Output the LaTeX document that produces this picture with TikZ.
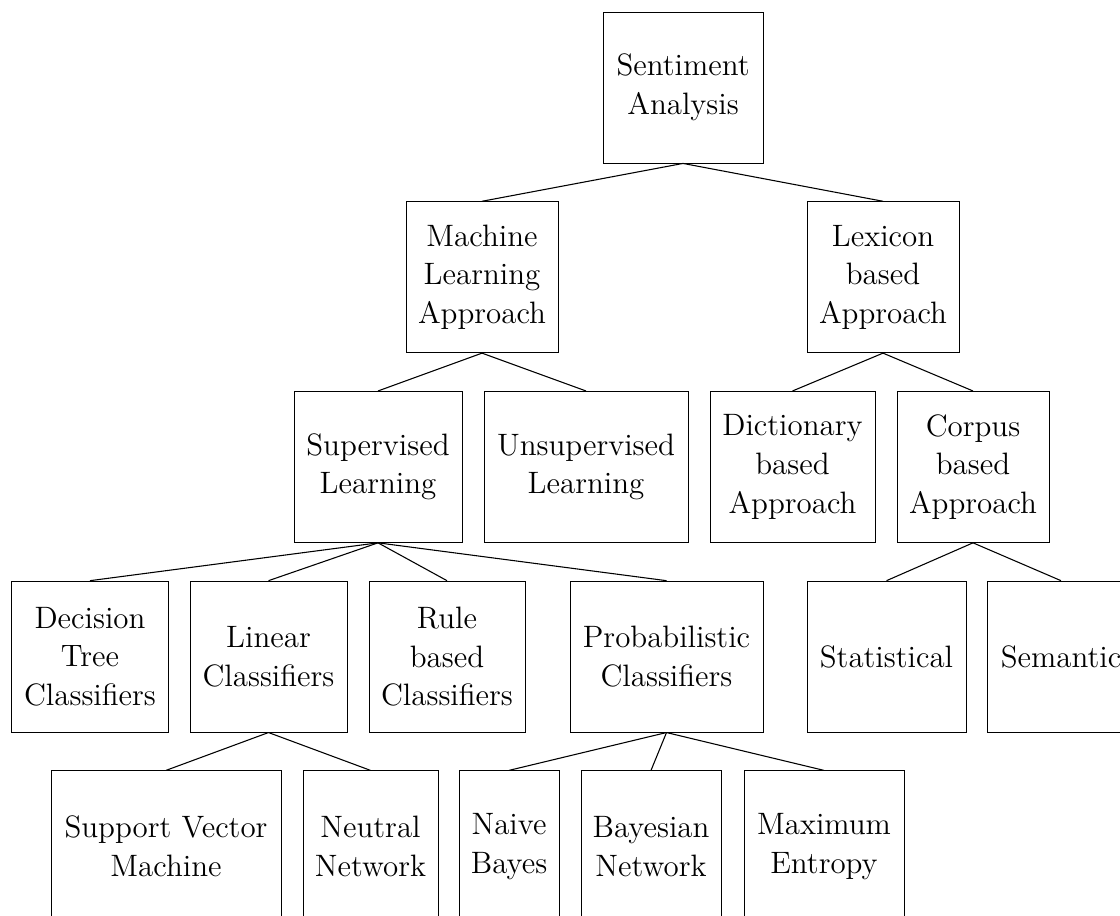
\documentclass[tikz,border=0pt]{standalone}
\begin{document}
\begin{tikzpicture}[x=0.4653pt,y=-0.4653pt,
  bx/.style={draw, align=center, inner sep=0pt, font=\Large,
    minimum height=70.26pt, minimum width={#1*0.4653pt}},
  link/.style={draw, line width=0.5pt}]
\useasboundingbox (0,0) rectangle (1120,915);
\clip (0,0) rectangle (1120,915);
% level 1
\node[bx=160] (root) at (683,87.5) {Sentiment\\Analysis};
% level 2
\node[bx=152] (ml) at (482,277.2) {Machine\\Learning\\Approach};
\node[bx=152] (lex) at (883,277.2) {Lexicon\\based\\Approach};
% level 3
\node[bx=168] (sup) at (378,466.9) {Supervised\\Learning};
\node[bx=204] (unsup) at (586,466.9) {Unsupervised\\Learning};
\node[bx=165] (dict) at (792.5,466.9) {Dictionary\\based\\Approach};
\node[bx=152] (corp) at (973,466.9) {Corpus\\based\\Approach};
% level 4
\node[bx=157] (dec) at (90,656.6) {Decision\\Tree\\Classifiers};
\node[bx=157] (lin) at (268.5,656.6) {Linear\\Classifiers};
\node[bx=156] (rule) at (447,656.6) {Rule\\based\\Classifiers};
\node[bx=193] (prob) at (666.5,656.6) {Probabilistic\\Classifiers};
\node[bx=159] (stat) at (886.5,656.6) {Statistical};
\node[bx=147] (sem) at (1061,656.6) {Semantic};
% level 5
\node[bx=230] (svm) at (166,846.3) {Support Vector\\Machine};
\node[bx=135] (nn) at (370.5,846.3) {Neutral\\Network};
\node[bx=100] (nb) at (509,846.3) {Naive\\Bayes};
\node[bx=140] (bn) at (651,846.3) {Bayesian\\Network};
\node[bx=160] (me) at (824,846.3) {Maximum\\Entropy};
% connectors
\draw[link] (root.south) -- (ml.north);
\draw[link] (root.south) -- (lex.north);
\draw[link] (ml.south) -- (sup.north);
\draw[link] (ml.south) -- (unsup.north);
\draw[link] (lex.south) -- (dict.north);
\draw[link] (lex.south) -- (corp.north);
\draw[link] (sup.south) -- (dec.north);
\draw[link] (sup.south) -- (lin.north);
\draw[link] (sup.south) -- (rule.north);
\draw[link] (sup.south) -- (prob.north);
\draw[link] (corp.south) -- (stat.north);
\draw[link] (corp.south) -- (sem.north);
\draw[link] (lin.south) -- (svm.north);
\draw[link] (lin.south) -- (nn.north);
\draw[link] (prob.south) -- (nb.north);
\draw[link] (prob.south) -- (bn.north);
\draw[link] (prob.south) -- (me.north);
\end{tikzpicture}
\end{document}
